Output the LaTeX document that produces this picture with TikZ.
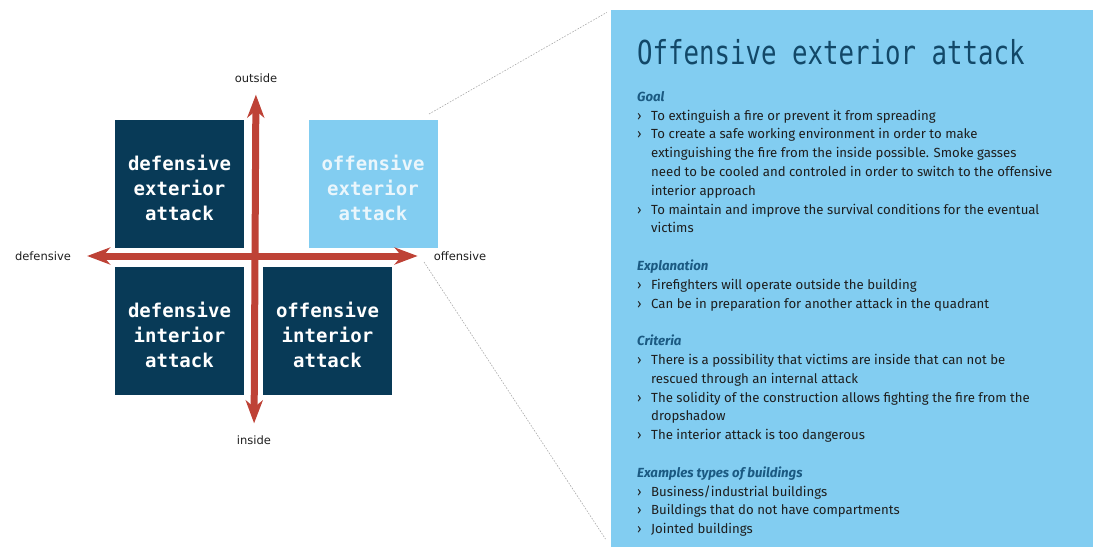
\documentclass[tikz,border=0pt]{standalone}
\usepackage{fontspec}
\setmainfont{Fira Sans}
\newfontfamily\qdmono{DejaVu Sans Mono}
\newfontfamily\qdtitlefont[FakeStretch=0.78]{DejaVu Sans Mono}
\newfontfamily\qdlabelfont{DejaVu Sans}
\usetikzlibrary{arrows.meta,positioning}
\definecolor{qdNavy}{HTML}{083A57}
\definecolor{qdSky}{HTML}{82CDF1}
\definecolor{qdPale}{HTML}{EAF6FC}
\definecolor{qdRed}{HTML}{BE4236}
\definecolor{qdInk}{HTML}{1E1E1E}
\definecolor{qdTitle}{HTML}{124868}
\definecolor{qdTeal}{HTML}{1B5A82}
\definecolor{qdGuide}{HTML}{ABABAB}
\newcommand\qdhead[1]{{\color{qdTeal}\bfseries\itshape #1}}
\newcommand\qdbullet{\makebox[14pt][l]{›}}
\newcommand\qdcont{\hspace*{14pt}}
\tikzset{
  qd quadrant/.style={
    fill=qdNavy, text=white,
    minimum width=129pt, minimum height=128pt, inner sep=0pt
  },
  qd quadrant active/.style={qd quadrant, fill=qdSky},
  qd caption/.style={
    text=white, align=center, yshift=-4pt,
    font=\qdmono\bfseries\fontsize{19}{25}\selectfont
  },
  qd caption active/.style={qd caption, text=qdPale},
  qd axis/.style={
    draw=qdRed,
    line width=7pt,
    {Stealth[length=23pt,width=17pt,inset=7pt]}-{Stealth[length=23pt,width=17pt,inset=7pt]}
  },
  qd guide/.style={
    draw=qdGuide,
    line width=.6pt,
    dash pattern=on 1.6pt off 1.4pt
  },
  qd label/.style={font=\qdlabelfont\fontsize{11.5}{13}\selectfont, text=qdInk, inner sep=1pt},
  qd panel/.style={fill=qdSky, inner sep=0pt, minimum width=482pt, minimum height=537pt},
  qd title/.style={font=\qdtitlefont\fontsize{33}{33}\selectfont, text=qdTitle, inner sep=0pt},
  qd notes/.style={font=\fontsize{13.2}{18.8}\selectfont, text=qdInk, align=left, inner sep=0pt}
}

\begin{document}
\begin{tikzpicture}[x=1pt,y=-1pt]
  \useasboundingbox (0,0) rectangle (1093,547);

  \node[qd panel, anchor=north west] (panel) at (611,10) {};

  \node[qd quadrant, label={[qd caption]center:defensive\\exterior\\attack}] (dext) at (179.5,183.5) {};
  \node[qd quadrant active, label={[qd caption active]center:offensive\\exterior\\attack}] (oext) at (373,183.5) {};
  \node[qd quadrant, label={[qd caption]center:defensive\\interior\\attack}] (dint) at (179.5,331) {};
  \node[qd quadrant, label={[qd caption]center:offensive\\interior\\attack}] (oint) at (327.5,331) {};

  \node[qd label] (outside) at (256,78) {outside};
  \node[qd label] (inside) at (254,440) {inside};
  \node[qd label] (defensive) at (43,256) {defensive};
  \node[qd label] (offensive) at (460,256) {offensive};

  \draw[qd axis, shorten <=11pt, shorten >=11pt] (outside) -- (inside);
  \draw[qd axis, shorten <=15pt, shorten >=15pt] (defensive) -- (offensive);

  \coordinate (zoomtop) at (429,114);
  \coordinate (zoombottom) at (424,262);
  \draw[qd guide, shorten >=5pt] (zoomtop) -- (panel.north west);
  \draw[qd guide, shorten >=10pt] (zoombottom) -- (panel.south west);

  \node[qd title, anchor=base west] (title) at (637,64) {Offensive exterior attack};
  \node[qd notes, anchor=north west] (notes) at (637,91) {%
    \qdhead{Goal}\\
    \qdbullet To extinguish a fire or prevent it from spreading\\
    \qdbullet To create a safe working environment in order to make\\
    \qdcont extinguishing the fire from the inside possible. Smoke gasses\\
    \qdcont need to be cooled and controled in order to switch to the offensive\\
    \qdcont interior approach\\
    \qdbullet To maintain and improve the survival conditions for the eventual\\
    \qdcont victims\\[18.8pt]
    \qdhead{Explanation}\\
    \qdbullet Firefighters will operate outside the building\\
    \qdbullet Can be in preparation for another attack in the quadrant\\[18.8pt]
    \qdhead{Criteria}\\
    \qdbullet There is a possibility that victims are inside that can not be\\
    \qdcont rescued through an internal attack\\
    \qdbullet The solidity of the construction allows fighting the fire from the\\
    \qdcont dropshadow\\
    \qdbullet The interior attack is too dangerous\\[18.8pt]
    \qdhead{Examples types of buildings}\\
    \qdbullet Business/industrial buildings\\
    \qdbullet Buildings that do not have compartments\\
    \qdbullet Jointed buildings};
\end{tikzpicture}
\end{document}
